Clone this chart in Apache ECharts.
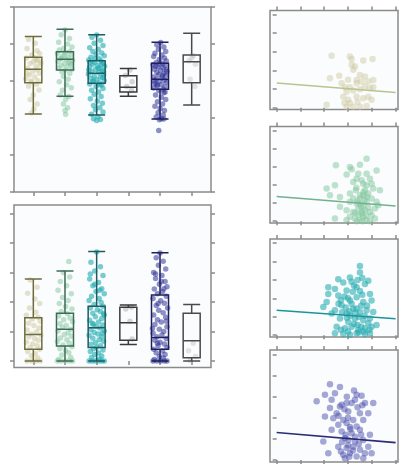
<!DOCTYPE html>
<html><head><meta charset="utf-8">
<script src="https://cdn.jsdelivr.net/npm/echarts@6/dist/echarts.min.js"></script>
<style>html,body{margin:0;padding:0;background:#fff}#c{width:404px;height:472px}</style>
</head><body><div id="c"></div><script>
// ---------- DATA ----------
const categories = ['1','2','3','4','5','6'];
const boxTicksX = [1,2,3,4,5,6];
const yTicks = [0,1,2,3,4,5];
const rightTicks = [0,1,2,3,4,5];

// box statistics [min, Q1, median, Q3, max]
const topBoxes = [
  [2.11,2.95,3.32,3.64,4.20],
  [2.59,3.30,3.59,3.79,4.40],
  [2.08,2.94,3.21,3.55,4.25],
  [2.59,2.70,2.83,3.14,3.34],
  [1.97,2.78,3.05,3.48,4.05],
  [2.35,2.95,3.52,3.70,4.29]
];
const bottomBoxes = [
  [0,0.40,0.90,1.47,2.78],
  [0,0.51,1.08,1.62,3.05],
  [0,0.46,1.13,1.86,3.71],
  [0.56,0.70,1.30,1.82,1.90],
  [0,0.40,0.80,2.24,3.67],
  [0,0.11,0.69,1.62,1.92]
];

// jittered points: [offset from category, value]
const topG1 = [[-0.15,4.12],[0.06,4.02],[-0.2,3.88],[0.12,3.82],[0.2,3.74],[-0.05,3.7],[-0.22,3.62],[0.15,3.57],[0.0,3.52],[-0.1,3.47],[0.22,3.43],[0.08,3.39],[-0.18,3.34],[0.12,3.3],[-0.02,3.26],[0.2,3.21],[-0.12,3.16],[0.05,3.11],[-0.24,3.06],[0.15,3.01],[-0.05,2.97],[0.1,2.91],[-0.15,2.86],[0.18,2.76],[0.0,2.62],[-0.1,2.5],[0.12,2.38],[0.02,2.24],[-0.06,2.14],[0.05,3.63],[-0.2,3.2],[0.24,3.5],[-0.08,3.0],[0.1,3.55]];
const topG2 = [[0.0,4.38],[-0.12,4.25],[0.14,4.15],[-0.2,4.05],[0.08,4.0],[0.22,3.92],[-0.05,3.88],[-0.18,3.84],[0.15,3.8],[0.02,3.77],[-0.24,3.74],[0.2,3.7],[-0.08,3.67],[0.1,3.64],[-0.15,3.61],[0.05,3.58],[0.24,3.56],[-0.22,3.53],[0.12,3.5],[-0.02,3.47],[0.18,3.44],[-0.12,3.41],[0.06,3.38],[-0.2,3.35],[0.22,3.32],[0.0,3.29],[-0.1,3.25],[0.15,3.2],[-0.05,3.12],[0.1,3.05],[-0.18,2.98],[0.05,2.9],[0.2,2.82],[-0.08,2.75],[-0.15,2.62],[0.12,2.58],[0.02,2.5],[-0.05,2.38],[0.08,2.28],[0.0,2.2],[0.02,2.1],[-0.12,3.6],[0.16,3.48],[-0.02,3.7]];
const topG3 = [[0.0,4.24],[-0.15,4.18],[0.12,4.1],[-0.08,4.02],[0.2,3.96],[-0.22,3.9],[0.05,3.86],[-0.12,3.8],[0.16,3.76],[-0.02,3.72],[0.24,3.68],[-0.18,3.64],[0.08,3.6],[-0.25,3.57],[0.14,3.54],[-0.06,3.51],[0.2,3.48],[-0.14,3.45],[0.02,3.42],[0.25,3.4],[-0.22,3.37],[0.1,3.34],[-0.04,3.31],[0.18,3.28],[-0.16,3.25],[0.06,3.22],[-0.26,3.19],[0.22,3.16],[-0.08,3.13],[0.12,3.1],[-0.18,3.07],[0.0,3.04],[0.24,3.01],[-0.12,2.98],[0.08,2.95],[-0.22,2.92],[0.16,2.89],[-0.02,2.85],[0.2,2.8],[-0.16,2.75],[0.06,2.7],[-0.08,2.64],[0.14,2.58],[-0.2,2.52],[0.02,2.46],[0.18,2.4],[-0.1,2.34],[0.1,2.28],[-0.04,2.22],[0.2,2.16],[-0.16,2.1],[0.04,2.04],[-0.1,1.98],[0.12,1.96],[0.0,1.93],[-0.2,3.5],[0.05,3.35],[0.22,3.25],[-0.1,3.0],[0.15,3.45],[-0.25,3.3],[0.1,2.9],[-0.05,3.6],[0.2,3.1]];
const topG4 = [[0.05,3.3],[-0.1,3.15],[0.12,2.98],[-0.05,2.85],[0.1,2.75]];
const topG5 = [[0.02,4.04],[-0.1,3.98],[0.12,3.92],[-0.05,3.86],[0.18,3.8],[-0.16,3.75],[0.06,3.7],[-0.2,3.66],[0.14,3.62],[-0.02,3.58],[0.2,3.54],[-0.12,3.5],[0.08,3.47],[-0.22,3.44],[0.16,3.41],[-0.06,3.38],[0.1,3.35],[-0.18,3.32],[0.02,3.29],[0.22,3.26],[-0.1,3.23],[0.12,3.2],[-0.04,3.17],[0.18,3.14],[-0.2,3.11],[0.06,3.08],[-0.12,3.05],[0.14,3.02],[-0.02,2.99],[0.2,2.96],[-0.16,2.93],[0.04,2.9],[-0.08,2.87],[0.16,2.84],[-0.2,2.81],[0.1,2.78],[-0.04,2.74],[0.12,2.68],[-0.14,2.62],[0.04,2.56],[0.18,2.5],[-0.08,2.44],[0.08,2.38],[-0.16,2.32],[0.0,2.26],[0.14,2.2],[-0.06,2.14],[0.1,2.08],[-0.12,2.03],[0.04,1.98],[0.12,1.97],[-0.02,1.95],[-0.04,1.66],[-0.14,3.4],[0.08,3.15],[0.2,3.3],[-0.1,2.9],[0.0,3.45],[0.16,2.7],[-0.18,3.0]];
const topG6 = [[0.05,3.68],[-0.08,3.55],[0.12,3.45],[-0.05,3.05],[0.1,2.85],[0.0,3.62]];

const botG1 = [[-0.1,2.75],[0.12,2.5],[-0.18,2.3],[0.05,2.1],[0.2,1.95],[-0.12,1.8],[0.08,1.65],[-0.22,1.55],[0.15,1.48],[-0.04,1.42],[0.22,1.35],[-0.15,1.28],[0.02,1.2],[0.18,1.12],[-0.2,1.05],[0.1,0.98],[-0.06,0.92],[0.24,0.88],[-0.14,0.82],[0.04,0.76],[0.16,0.7],[-0.22,0.64],[-0.02,0.58],[0.12,0.52],[-0.1,0.46],[0.2,0.4],[-0.18,0.32],[0.06,0.25],[-0.06,0.18],[0.14,0.1],[-0.2,0.0],[-0.05,0.0],[0.1,0.0],[0.22,0.0]];
const botG2 = [[0.12,3.37],[-0.05,3.0],[0.15,2.85],[-0.15,2.7],[0.05,2.55],[-0.22,2.4],[0.2,2.28],[-0.08,2.15],[0.1,2.05],[-0.18,1.95],[0.02,1.85],[0.22,1.76],[-0.12,1.68],[0.08,1.6],[-0.2,1.53],[0.16,1.46],[-0.04,1.4],[0.24,1.33],[-0.16,1.26],[0.04,1.2],[-0.08,1.14],[0.18,1.08],[-0.22,1.02],[0.1,0.96],[-0.02,0.9],[0.2,0.84],[-0.14,0.78],[0.06,0.72],[-0.24,0.66],[0.14,0.6],[-0.06,0.54],[0.22,0.48],[-0.16,0.42],[0.02,0.36],[0.12,0.28],[-0.1,0.2],[0.18,0.12],[-0.2,0.05],[-0.12,0.0],[0.02,0.0],[0.14,0.0],[0.24,0.0],[-0.24,0.0]];
const botG3 = [[0.0,3.7],[-0.18,3.35],[0.12,3.2],[-0.06,3.05],[0.2,2.9],[-0.22,2.78],[0.06,2.66],[-0.12,2.55],[0.16,2.45],[-0.02,2.36],[0.24,2.28],[-0.16,2.2],[0.08,2.12],[-0.24,2.05],[0.14,1.98],[-0.08,1.92],[0.2,1.86],[-0.2,1.8],[0.02,1.74],[0.12,1.68],[-0.12,1.62],[0.24,1.56],[-0.04,1.5],[0.16,1.44],[-0.22,1.38],[0.06,1.32],[-0.14,1.27],[0.2,1.22],[-0.02,1.17],[0.1,1.12],[-0.18,1.07],[0.24,1.02],[-0.08,0.97],[0.04,0.92],[-0.24,0.87],[0.16,0.82],[-0.12,0.77],[0.08,0.72],[0.22,0.67],[-0.04,0.62],[-0.18,0.57],[0.12,0.52],[0.0,0.47],[-0.1,0.42],[0.2,0.37],[-0.2,0.32],[0.06,0.27],[-0.06,0.22],[0.16,0.17],[-0.16,0.12],[0.1,0.07],[-0.24,0.0],[-0.14,0.0],[-0.04,0.0],[0.06,0.0],[0.16,0.0],[0.24,0.0],[-0.2,2.95],[0.1,2.4],[-0.1,1.25],[0.18,0.95],[-0.06,2.6],[0.22,1.6]];
const botG4 = [[0.1,1.82],[-0.08,1.76],[0.05,1.35],[0.12,0.75]];
const botG5 = [[0.0,3.66],[-0.12,3.5],[0.1,3.38],[-0.05,3.25],[0.18,3.12],[-0.2,3.0],[0.06,2.9],[-0.14,2.8],[0.16,2.7],[-0.02,2.6],[0.22,2.52],[-0.18,2.44],[0.08,2.36],[-0.08,2.28],[0.2,2.2],[-0.22,2.12],[0.02,2.04],[0.14,1.96],[-0.12,1.88],[0.24,1.8],[-0.04,1.72],[0.1,1.64],[-0.2,1.56],[0.18,1.48],[-0.08,1.4],[0.04,1.32],[-0.16,1.24],[0.22,1.16],[-0.02,1.08],[0.12,1.0],[-0.22,0.94],[0.06,0.88],[-0.1,0.82],[0.2,0.76],[-0.16,0.7],[0.0,0.64],[0.14,0.58],[-0.06,0.52],[0.22,0.46],[-0.2,0.4],[0.08,0.34],[-0.12,0.28],[0.16,0.22],[-0.02,0.16],[0.1,0.1],[-0.18,0.05],[-0.22,0.0],[-0.1,0.0],[0.02,0.0],[0.14,0.0],[0.22,0.0],[-0.14,2.95],[0.12,2.45],[-0.06,1.95],[0.2,1.35],[-0.24,1.1],[0.04,2.7],[-0.08,0.6]];
const botG6 = [[0.05,0.6],[-0.1,0.35],[0.12,0.15],[-0.05,0.02]];

// right-hand scatter panels: [x, y]
const scat1 = [[2.31,2.79],[3.08,2.75],[3.15,2.61],[3.64,2.53],[4.03,2.61],[2.24,1.58],[2.63,1.71],[3.22,2.03],[3.36,1.49],[3.5,1.76],[3.71,1.67],[3.85,1.4],[4.06,1.49],[2.73,1.31],[2.87,1.1],[3.08,1.1],[2.94,0.86],[3.22,0.92],[3.5,0.99],[3.71,1.13],[3.92,1.04],[2.8,0.59],[3.01,0.42],[3.08,0.24],[3.36,0.59],[3.64,0.51],[3.85,0.59],[2.1,0.15],[2.94,0.05],[3.22,0.05],[3.5,0.05],[3.78,0.09],[3.99,0.42],[3.36,1.31],[3.57,1.4],[3.15,2.3],[3.29,2.21],[4.06,1.1],[3.4,0.3],[3.0,1.5],[2.85,0.25]];
const scat2 = [[3.78,3.44],[2.49,3.08],[3.08,2.99],[3.15,2.86],[3.5,3.11],[2.94,2.57],[3.78,2.62],[3.92,2.34],[4.2,2.8],[2.45,1.98],[2.1,1.8],[2.24,1.43],[2.66,1.34],[3.08,1.52],[3.22,2.16],[3.36,2.34],[3.64,2.07],[3.71,1.7],[3.85,1.52],[4.06,1.8],[4.34,1.7],[3.08,1.07],[3.36,0.97],[3.5,1.25],[3.64,0.88],[3.78,1.07],[3.99,1.25],[4.2,1.07],[2.66,0.79],[2.94,0.6],[3.22,0.51],[3.43,0.7],[3.57,0.42],[3.71,0.6],[3.92,0.51],[4.13,0.7],[4.27,0.88],[3.08,0.24],[3.29,0.15],[3.5,0.06],[3.64,0.24],[3.78,0.06],[3.99,0.33],[4.13,0.15],[2.94,0.06],[2.45,0.15],[3.36,0.0],[3.6,0.0],[3.92,0.0],[3.5,1.43],[3.22,1.25],[3.64,1.43],[3.78,1.98],[3.99,2.07],[3.43,2.62],[3.57,2.25],[3.33,1.7],[3.45,0.35],[3.55,0.8],[3.7,1.2],[3.4,1.1],[3.85,0.75],[3.6,0.55],[3.3,0.45],[3.75,0.3],[3.5,0.95],[3.65,1.6],[3.35,1.85],[3.8,1.35]];
const scat3 = [[3.5,3.75],[3.5,3.4],[3.08,3.13],[2.59,3.04],[2.8,2.86],[3.85,2.95],[3.71,2.78],[2.17,2.6],[2.45,2.51],[2.17,2.24],[1.96,1.53],[2.1,1.8],[2.59,2.15],[2.94,2.42],[3.36,2.6],[3.92,2.24],[3.99,1.88],[2.45,1.35],[2.31,1.17],[2.73,1.62],[3.08,1.88],[3.36,2.06],[3.64,1.8],[3.22,1.44],[2.94,1.17],[3.5,1.26],[3.78,1.35],[4.06,1.26],[2.66,0.9],[3.01,0.72],[3.29,0.9],[3.64,0.81],[3.92,0.9],[4.2,0.55],[2.52,0.46],[2.87,0.37],[3.15,0.46],[3.43,0.28],[3.71,0.37],[3.99,0.46],[2.45,0.1],[2.8,0.06],[3.08,0.02],[3.36,0.1],[3.71,0.06],[3.92,0.1],[2.9,1.5],[3.0,2.0],[3.15,1.7],[3.3,1.2],[3.45,1.0],[3.55,1.6],[3.6,2.2],[3.2,2.35],[2.85,2.1],[2.7,1.9],[3.25,0.6],[3.4,0.55],[3.55,0.45],[3.1,1.05],[2.95,0.95],[3.7,1.05],[3.85,0.65],[3.35,1.45],[3.05,1.3],[2.75,1.25],[3.5,2.4],[3.8,1.6],[3.25,2.7],[2.6,1.7],[3.65,0.2],[3.0,0.2],[2.7,0.3],[3.45,0.15],[3.9,0.3],[3.15,2.9],[3.4,3.0],[3.6,3.1]];
const scat4 = [[2.24,3.59],[2.66,3.46],[2.03,3.1],[2.45,3.17],[1.68,2.78],[2.31,2.86],[2.73,2.62],[2.66,2.54],[3.36,3.1],[3.57,3.05],[3.29,2.86],[3.15,2.7],[2.94,2.7],[3.71,2.7],[4.06,2.7],[2.24,2.46],[2.03,2.06],[2.52,2.22],[3.01,2.3],[3.5,2.22],[3.85,2.22],[2.38,1.98],[2.8,1.9],[3.22,1.9],[3.64,1.9],[2.59,1.67],[2.94,1.75],[3.08,1.56],[3.36,1.59],[2.31,1.43],[2.73,1.35],[3.15,1.27],[3.5,1.43],[3.92,1.19],[1.96,0.87],[2.87,1.03],[3.01,0.95],[3.29,0.87],[3.64,0.95],[3.85,0.63],[2.59,0.63],[2.94,0.56],[3.22,0.63],[3.5,0.48],[3.71,0.32],[2.17,0.32],[2.8,0.24],[3.08,0.32],[3.36,0.16],[2.87,0.08],[3.64,0.08],[3.99,0.32],[3.0,2.0],[3.1,1.45],[2.9,1.2],[3.3,1.1],[3.2,0.45],[3.0,0.7],[2.75,0.85],[3.45,0.75],[3.55,1.2],[2.85,2.4],[3.4,2.5],[2.6,2.1],[3.25,3.3],[3.05,0.15],[2.7,0.4],[3.6,2.6],[2.95,3.0]];

// regression line endpoints
const fit1 = [[0,1.32],[5,0.81]];
const fit2 = [[0,1.36],[5,0.84]];
const fit3 = [[0,1.35],[5,0.89]];
const fit4 = [[0,1.30],[5,0.82]];

// ---------- STYLE ----------
const pointColors = ['rgba(200,196,150,0.6)','rgba(130,200,160,0.65)','rgba(30,172,176,0.75)','rgba(150,155,165,0.5)','rgba(40,44,150,0.65)','rgba(180,180,185,0.45)'];
const boxColors = ['#6e6b3c','#3f6b55','#1d5c63','#3a3a3a','#1e1f5c','#4a4a4a'];
const rightPointColors = ['rgba(205,200,160,0.6)','rgba(130,200,160,0.65)','rgba(34,170,176,0.72)','rgba(70,75,170,0.6)'];
const fitColors = ['#b9c48e','#72b08f','#1c9499','#2a2c78'];
const AX = '#8a8a8a';

const grid = [], xAxis = [], yAxis = [], series = [];
function frameGrid(l,t,w,h){ grid.push({left:l,top:t,width:w,height:h,show:true,borderColor:AX,borderWidth:1.5,backgroundColor:'#fbfcfd'}); return grid.length-1; }
function hidGrid(l,t,w,h){ grid.push({left:l,top:t,width:w,height:h,show:false}); return grid.length-1; }
function vAxis(arr,gi,pos,min,max,ticks){
  arr.push({type:'value',gridIndex:gi,position:pos,min:min,max:max,
    axisLine:{show:false},
    axisTick:{show:!!ticks,customValues:ticks||[],length:4,lineStyle:{color:AX,width:1.5}},
    axisLabel:{show:false},splitLine:{show:false}});
  return arr.length-1;
}

function leftPanel(top,height,ymin,ymax,boxes,groups){
  const fg = frameGrid(14,top,197,height);
  const fx = vAxis(xAxis,fg,'bottom',0.39,6.61,boxTicksX);
  const fy = vAxis(yAxis,fg,'left',ymin,ymax,yTicks);
  vAxis(yAxis,fg,'right',ymin,ymax,yTicks);
  groups.forEach((g,i)=>{
    series.push({type:'scatter',xAxisIndex:fx,yAxisIndex:fy,symbolSize:5.5,z:2,silent:true,
      itemStyle:{color:pointColors[i]},
      data:g.map(p=>[i+1+p[0],p[1]])});
  });
  const bg = hidGrid(14+(0.5-0.39)*197/6.22,top,6*197/6.22,height);
  xAxis.push({type:'category',gridIndex:bg,data:categories,boundaryGap:true,show:false});
  const bx = xAxis.length-1;
  yAxis.push({type:'value',gridIndex:bg,min:ymin,max:ymax,show:false,splitLine:{show:false}});
  const by = yAxis.length-1;
  series.push({type:'boxplot',xAxisIndex:bx,yAxisIndex:by,z:5,silent:true,boxWidth:[17,17],
    itemStyle:{color:'rgba(0,0,0,0)',borderWidth:1.5},
    data:boxes.map((b,i)=>({value:b,itemStyle:{borderColor:boxColors[i],color:'rgba(0,0,0,0)',borderWidth:1.5}}))});
}
leftPanel(7,185,0,5,topBoxes,[topG1,topG2,topG3,topG4,topG5,topG6]);
leftPanel(205,162.5,-0.22,5.29,bottomBoxes,[botG1,botG2,botG3,botG4,botG5,botG6]);

function rightPanel(top,height,pts,fit,i){
  const g = frameGrid(270,top,128,height);
  const x = vAxis(xAxis,g,'bottom',-0.28,5.1,rightTicks);
  vAxis(xAxis,g,'top',-0.28,5.1,rightTicks);
  const y = vAxis(yAxis,g,'left',-0.1,5.22,rightTicks);
  series.push({type:'scatter',xAxisIndex:x,yAxisIndex:y,symbolSize:6.5,silent:true,
    itemStyle:{color:rightPointColors[i]},data:pts});
  series.push({type:'line',xAxisIndex:x,yAxisIndex:y,showSymbol:false,silent:true,z:4,
    lineStyle:{color:fitColors[i],width:1.6},data:fit});
}
rightPanel(10.5,99,scat1,fit1,0);
rightPanel(126.5,96.5,scat2,fit2,1);
rightPanel(239,98,scat3,fit3,2);
rightPanel(350,112,scat4,fit4,3);

const chart = echarts.init(document.getElementById('c'),null,{renderer:'canvas'});
chart.setOption({backgroundColor:'#ffffff',animation:false,grid,xAxis,yAxis,series});
</script></body></html>
